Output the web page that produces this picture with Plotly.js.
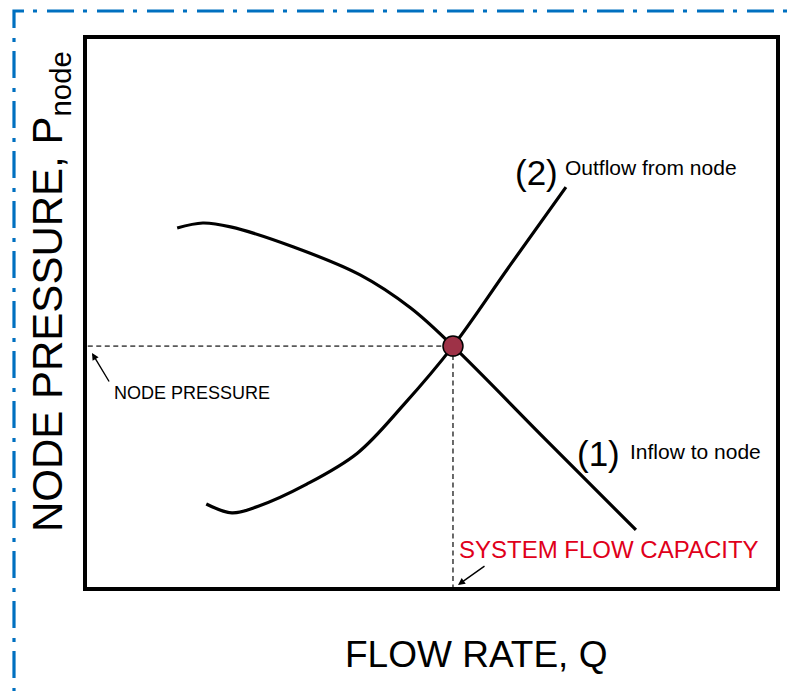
<!DOCTYPE html>
<html>
<head>
<meta charset="utf-8">
<script src="https://cdn.plot.ly/plotly-3.0.1.min.js"></script>
<style>
  html, body { margin: 0; padding: 0; background: #ffffff; }
  #chart { width: 795px; height: 691px; }
</style>
</head>
<body>
<div id="chart"></div>
<script>
// ---- Data (axis units 0..100) ----
var inflowX  = [13.3, 17.0, 21.0, 30.0, 39.7, 47.0, 53.1, 66.3, 79.5];
var inflowY  = [65.4, 66.3, 65.6, 62.0, 56.9, 50.9, 44.0, 27.3, 10.7];
var outflowX = [17.5, 21.2, 25.0, 32.0, 39.3, 46.0, 53.1, 61.2, 69.4];
var outflowY = [15.4, 13.8, 15.0, 19.0, 24.6, 33.4, 44.0, 58.4, 72.8];
var nodeQ = [53.1];
var nodeP = [44.0];
var refLineX = [0.4, 53.1, 53.1];
var refLineY = [44.0, 44.0, 0];

// ---- layout helpers (pixel -> paper) ----
var L = 85, R = 778, T = 37, B = 589;
function X(px) { return (px - L) / (R - L); }
function Y(py) { return (B - py) / (B - T); }

var FONT = "Liberation Sans, Arial, Helvetica, sans-serif";

var traces = [
  { x: refLineX, y: refLineY, mode: 'lines', hoverinfo: 'skip',
    line: { color: '#5a5a5a', width: 1.8, dash: '5px,3.5px' } },
  { x: inflowX, y: inflowY, mode: 'lines',
    line: { color: '#000000', width: 3.2, shape: 'spline', smoothing: 1 } },
  { x: outflowX, y: outflowY, mode: 'lines',
    line: { color: '#000000', width: 3.2, shape: 'spline', smoothing: 1 } },
  { x: nodeQ, y: nodeP, mode: 'markers',
    marker: { size: 20, color: '#9E3247', line: { color: '#000000', width: 1.5 } } }
];

function txt(text, px, py, size, xanchor, color, extra) {
  var a = { xref: 'paper', yref: 'paper', x: X(px), y: Y(py), text: text,
            showarrow: false, xanchor: xanchor, yanchor: 'middle',
            font: { family: FONT, size: size, color: color || '#000000' } };
  for (var k in extra) a[k] = extra[k];
  return a;
}

var annotations = [
  txt('(2)', 536.5, 172, 35, 'center'),
  txt('Outflow from node', 563, 167, 21, 'left'),
  txt('(1)', 598.5, 453, 35, 'center'),
  txt('Inflow to node', 628, 451, 21, 'left'),
  txt('NODE PRESSURE', 112, 393, 18, 'left'),
  txt('SYSTEM FLOW CAPACITY', 457, 549, 24, 'left', '#E0001A'),
  txt('FLOW RATE, Q', 476, 654, 37, 'center'),
  txt('NODE PRESSURE, P<sub>node</sub>', 50, 292, 42, 'center', '#000000', { textangle: -90 }),
  // arrows
  { xref: 'paper', yref: 'paper', x: X(92), y: Y(353), text: '', showarrow: true,
    ax: 18, ay: 30, arrowhead: 2, arrowsize: 1, arrowwidth: 1.4, arrowcolor: '#000000' },
  { xref: 'paper', yref: 'paper', x: X(458), y: Y(585), text: '', showarrow: true,
    ax: 28, ay: -20, arrowhead: 2, arrowsize: 1, arrowwidth: 1.4, arrowcolor: '#000000' }
];

var shapes = [
  // plot frame
  { type: 'rect', xref: 'paper', yref: 'paper', x0: 0, x1: 1, y0: 0, y1: 1,
    line: { color: '#000000', width: 4 } },
  // blue dash-dot page frame (top + left)
  { type: 'path', xref: 'paper', yref: 'paper',
    path: 'M ' + X(824) + ',' + Y(11) + ' L ' + X(14) + ',' + Y(11) + ' L ' + X(14) + ',' + Y(700),
    line: { color: '#0070C0', width: 3.2, dash: '27px,10px,4px,9px' } }
];

var layout = {
  width: 795, height: 691,
  margin: { l: L, r: 795 - R, t: T, b: 691 - B, pad: 0 },
  paper_bgcolor: '#ffffff', plot_bgcolor: '#ffffff',
  showlegend: false,
  xaxis: { range: [0, 100], showgrid: false, zeroline: false, showticklabels: false,
           ticks: '', showline: false, fixedrange: true },
  yaxis: { range: [0, 100], showgrid: false, zeroline: false, showticklabels: false,
           ticks: '', showline: false, fixedrange: true },
  annotations: annotations,
  shapes: shapes,
  font: { family: FONT }
};

Plotly.newPlot('chart', traces, layout, { displayModeBar: false, staticPlot: true });
</script>
</body>
</html>
